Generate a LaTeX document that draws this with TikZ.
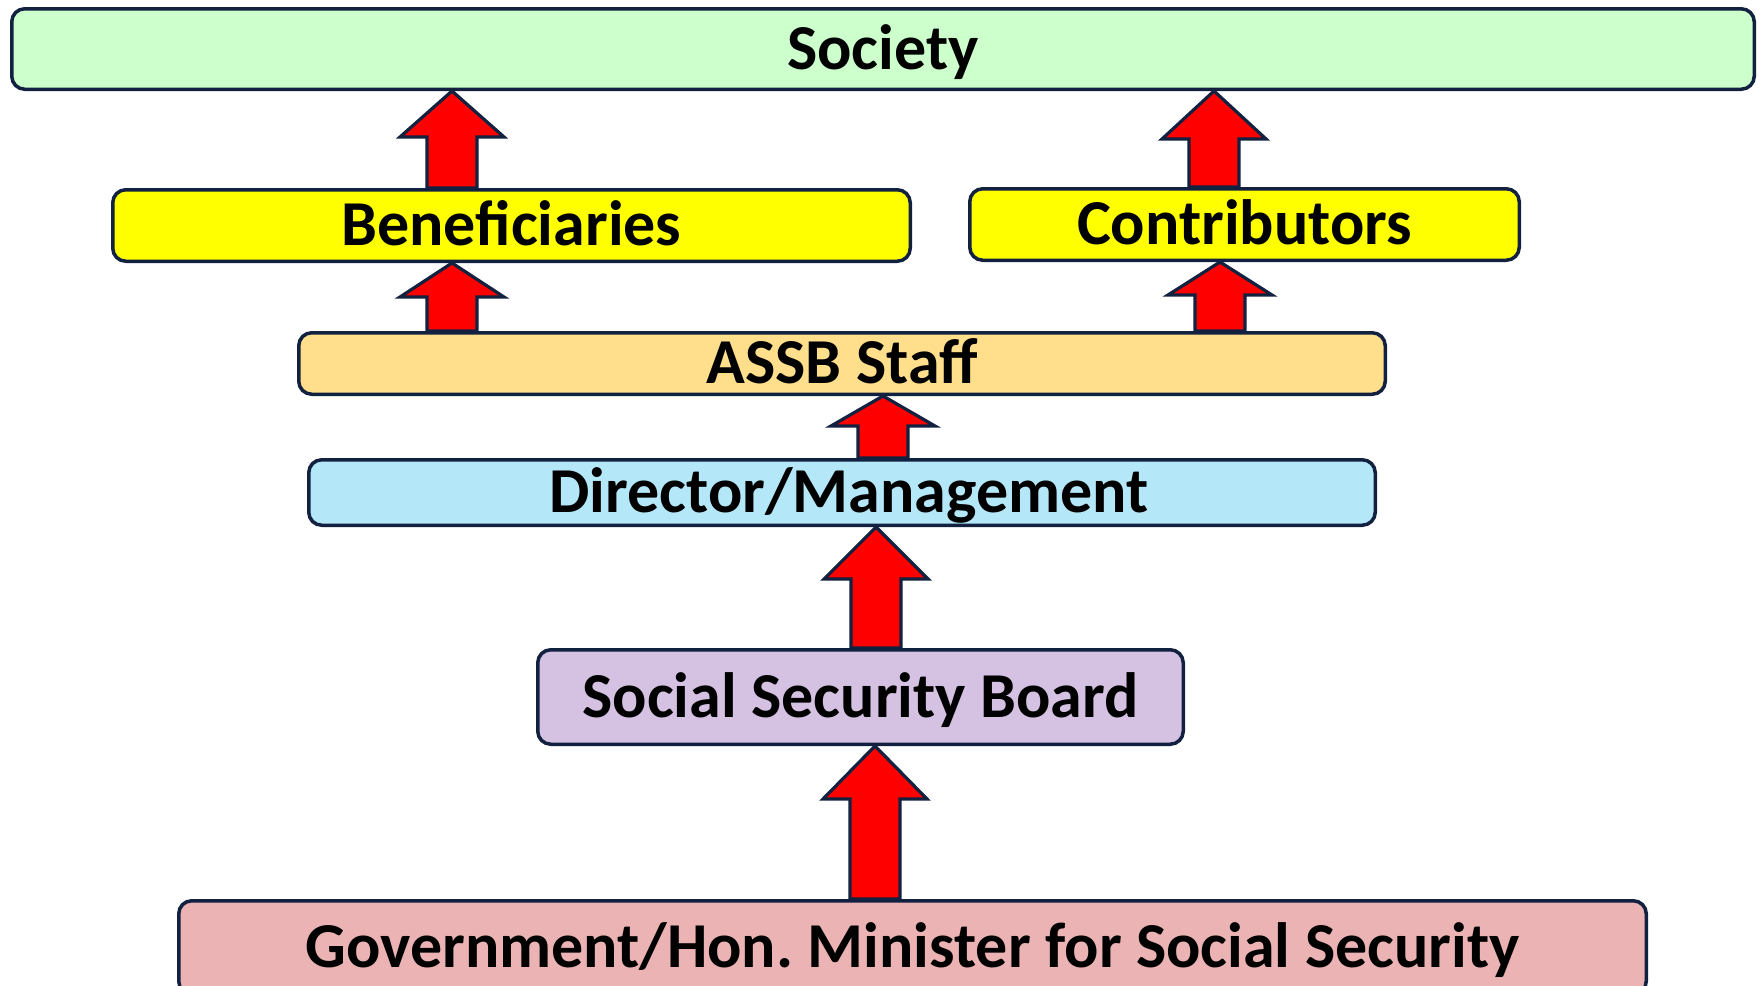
\documentclass[tikz,border=0pt]{standalone}
\usepackage{fontspec}
\setmainfont{Carlito}
\usetikzlibrary{calc}
\definecolor{navy}{RGB}{18,33,64}
\definecolor{socfill}{RGB}{204,255,204}
\definecolor{yelfill}{RGB}{255,255,0}
\definecolor{stafffill}{RGB}{255,223,140}
\definecolor{dirfill}{RGB}{180,231,248}
\definecolor{boardfill}{RGB}{213,193,226}
\definecolor{govfill}{RGB}{235,179,179}
\definecolor{arrred}{RGB}{255,0,0}
\newcommand\blockup[4]{% x(px), from node, to node, head length (px)
  \draw[blk] let \p1=(#2.north), \p2=(#3.south) in
    ({#1*0.5pt-12.5pt},\y1) -- ({#1*0.5pt-12.5pt},{\y2-#4*0.5pt}) -- ({#1*0.5pt-26pt},{\y2-#4*0.5pt})
    -- ({#1*0.5pt},\y2) -- ({#1*0.5pt+26pt},{\y2-#4*0.5pt}) -- ({#1*0.5pt+12.5pt},{\y2-#4*0.5pt})
    -- ({#1*0.5pt+12.5pt},\y1) -- cycle;}
\begin{document}
\frenchspacing
\begin{tikzpicture}[x=0.5pt,y=-0.5pt,
  box/.style={draw=navy, line width=1.75pt, rounded corners=6.5pt, inner sep=0pt,
    font=\bfseries\fontsize{32}{38}\selectfont, text height=20.2pt, text depth=0pt},
  blk/.style={draw=navy, fill=arrred, line width=1.6pt, line join=miter}]
\useasboundingbox (0,0) rectangle (1760,985);
\node[box, fill=socfill, minimum width=871.25pt, minimum height=40.25pt] (soc) at (883,49) {Society};
\node[box, fill=yelfill, minimum width=398.75pt, minimum height=35.75pt] (ben) at (511.5,225.5) {Beneficiaries};
\node[box, fill=yelfill, minimum width=274.75pt, minimum height=35.75pt] (con) at (1244.5,224.5) {Contributors};
\node[box, fill=stafffill, minimum width=543.25pt, minimum height=30.75pt] (staff) at (842,363.5) {ASSB Staff};
\node[box, fill=dirfill, minimum width=533.25pt, minimum height=32.75pt] (dir) at (842,492.5) {\hspace*{7pt}Director/Management};
\node[box, fill=boardfill, minimum width=322.75pt, minimum height=47.25pt] (board) at (860.5,697) {Social Security Board};
\node[box, fill=govfill, minimum width=733.75pt, minimum height=46.75pt] (gov) at (912.5,947.5) {Government/Hon. Minister for Social Security};
\blockup{452}{ben}{soc}{46}
\blockup{452}{staff}{ben}{34}
\blockup{1214}{con}{soc}{48}
\blockup{1220}{staff}{con}{33}
\blockup{883}{dir}{staff}{30}
\blockup{876}{board}{dir}{52}
\blockup{875}{gov}{board}{53}
\end{tikzpicture}
\end{document}
